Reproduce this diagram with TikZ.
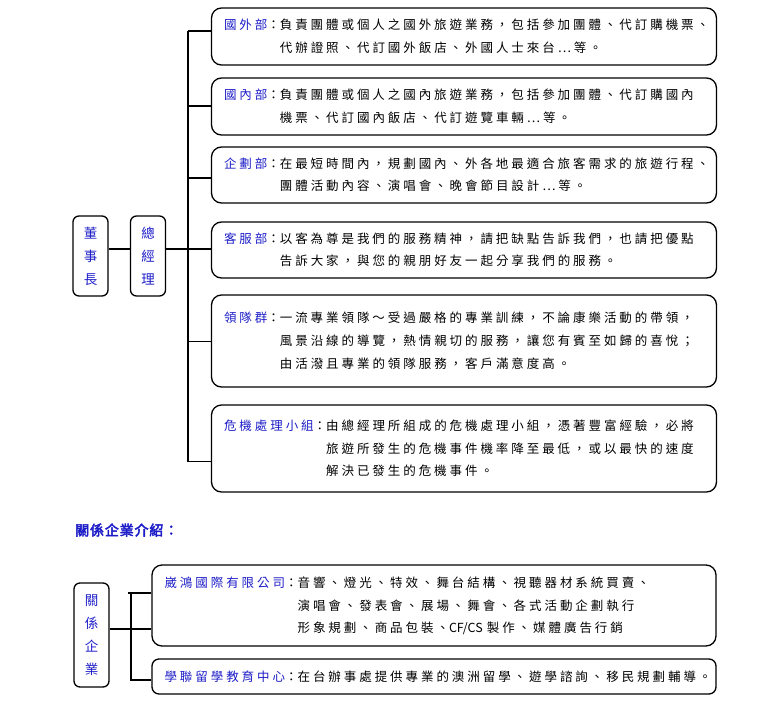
\documentclass[tikz,border=0pt]{standalone}
\usepackage{fontspec}
\newfontfamily\cjk[LetterSpace=23.5]{Noto Sans CJK TC}
\newfontfamily\cjkv{Noto Sans CJK TC}
\newfontfamily\cjkt[FakeBold=3,LetterSpace=6]{Noto Sans CJK TC}
\definecolor{lblue}{RGB}{30,30,200}
\newcommand\lab[1]{\textcolor{lblue}{#1}}
\newcommand\lat[1]{{\cjkv #1}}
\tikzset{
  ln/.style={line width=1.2pt},
  dept/.style={draw, line width=1.3pt, rounded corners=10pt, text width=480pt,
    inner xsep=12.5pt, inner ysep=0pt, align=left,
    font=\cjk\fontsize{12.5}{16}\selectfont},
  vbox/.style={draw, line width=1.3pt, rounded corners=6pt, minimum width=35pt,
    minimum height=80pt, align=center, text=lblue, inner sep=0pt,
    font=\cjkv\fontsize{13.5}{23}\selectfont},
}
\renewcommand\arraystretch{1.42}
\begin{document}
\begin{tikzpicture}[x=1pt,y=-1pt]
\useasboundingbox (0,0) rectangle (760,707);
% department boxes
\node[dept, minimum height=57pt] (b1) at (464,36.5) {\begin{tabular}{@{}l@{}l@{}}
\lab{國外部}： & 負責團體或個人之國外旅遊業務，包括參加團體、代訂購機票、\\
 & 代辦證照、代訂國外飯店、外國人士來台…等。\end{tabular}};
\node[dept, minimum height=57pt] (b2) at (464,106.5) {\begin{tabular}{@{}l@{}l@{}}
\lab{國內部}： & 負責團體或個人之國內旅遊業務，包括參加團體、代訂購國內\\
 & 機票、代訂國內飯店、代訂遊覽車輛…等。\end{tabular}};
\node[dept, minimum height=56pt] (b3) at (464,175) {\begin{tabular}{@{}l@{}l@{}}
\lab{企劃部}： & 在最短時間內，規劃國內、外各地最適合旅客需求的旅遊行程、\\
 & 團體活動內容、演唱會、晚會節目設計…等。\end{tabular}};
\node[dept, minimum height=56pt] (b4) at (464,250) {\begin{tabular}{@{}l@{}l@{}}
\lab{客服部}： & 以客為尊是我們的服務精神，請把缺點告訴我們，也請把優點\\
 & 告訴大家，與您的親朋好友一起分享我們的服務。\end{tabular}};
\node[dept, minimum height=92pt] (b5) at (464,341) {\begin{tabular}{@{}l@{}l@{}}
\lab{領隊群}： & 一流專業領隊～受過嚴格的專業訓練，不論康樂活動的帶領，\\
 & 風景沿線的導覽，熱情親切的服務，讓您有賓至如歸的喜悅；\\
 & 由活潑且專業的領隊服務，客戶滿意度高。\end{tabular}};
\node[dept, minimum height=87pt] (b6) at (464,448.5) {\begin{tabular}{@{}l@{}l@{}}
\lab{危機處理小組}： & 由總經理所組成的危機處理小組，憑著豐富經驗，必將\\
 & 旅遊所發生的危機事件機率降至最低，或以最快的速度\\
 & 解決已發生的危機事件。\end{tabular}};
% left boxes
\node[vbox] (dsz) at (90.5,256) {董\\事\\長};
\node[vbox] (gm) at (148,256) {總\\經\\理};
% trunk
\coordinate (j) at (188,249);
\coordinate (t1) at (188,31);
\coordinate (t2) at (188,106);
\coordinate (t3) at (188,178);
\coordinate (t4) at (188,249);
\coordinate (t5) at (188,341.5);
\coordinate (t6) at (188,461.5);
\draw[ln] (dsz.east|-j) -- (gm.west|-j);
\draw[ln] (gm.east|-j) -- (j);
\draw[ln] (t1) -- (t6);
\foreach \i in {1,...,6}{\draw[ln] (t\i) -- (t\i-|b\i.west);}
% related companies
\node[anchor=west, text=lblue, font=\cjkt\fontsize{14}{16}\selectfont, inner sep=0pt] (title) at (75,530) {關係企業介紹：};
\node[vbox, minimum height=104pt] (rel) at (91.5,635) {關\\係\\企\\業};
\node[dept, text width=539pt, minimum height=81pt] (ca) at (434,605.5) {\begin{tabular}{@{}l@{}l@{}}
\lab{崴鴻國際有限公司}： & 音響、燈光、特效、舞台結構、視聽器材系統買賣、\\
 & 演唱會、發表會、展場、舞會、各式活動企劃執行\\
 & 形象規劃、商品包裝、\lat{CF/CS} 製作、媒體廣告行銷\end{tabular}};
\node[dept, text width=539pt, minimum height=35pt, rounded corners=7pt] (cb) at (434,676.5) {\begin{tabular}{@{}l@{}l@{}}
\lab{學聯留學教育中心}： & 在台辦事處提供專業的澳洲留學、遊學諮詢、移民規劃輔導。\end{tabular}};
\coordinate (ra) at (131,593);
\coordinate (rj) at (131,629);
\coordinate (rb) at (131,680);
\draw[ln] (rel.east|-rj) -- (rj-|ca.west);
\draw[ln] ([xshift=-3pt]ra) -- (ra-|ca.west);
\draw[ln] (ra) -- (rb) -- (rb-|cb.west);
\end{tikzpicture}
\end{document}
